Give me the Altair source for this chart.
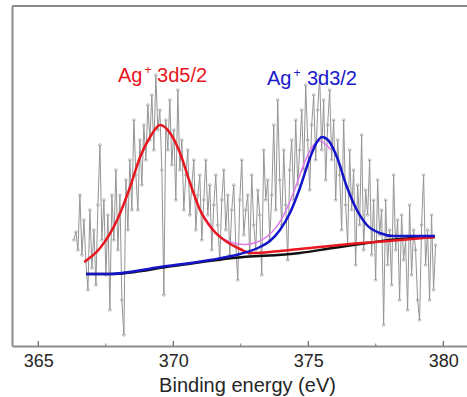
import altair as alt
import pandas as pd

# ---- raw spectrum (binding energy grid and intensity, a.u.) ----
E_START = 366.32
E_STEP = 0.074
intensity = [106, 114, 96, 151, 91, 126, 84, 56, 136, 78, 116, 61, 141, 201, 106, 146, 71, 131, 36, 151,
             106, 176, 96, 151, 46, 11, 166, 116, 186, 136, 226, 171, 136, 206, 161, 221, 186, 241, 206, 251,
             196, 271, 216, 236, 176, 51, 226, 196, 246, 181, 216, 146, 256, 176, 206, 136, 171, 196, 131, 161,
             186, 116, 151, 171, 106, 146, 186, 131, 161, 96, 141, 171, 121, 86, 146, 176, 116, 151, 91, 136,
             161, 101, 66, 146, 186, 111, 136, 151, 91, 171, 121, 96, 156, 131, 71, 196, 146, 166, 106, 151,
             221, 136, 246, 166, 121, 196, 141, 86, 176, 206, 146, 226, 161, 196, 236, 176, 261, 206, 156, 221,
             251, 186, 236, 271, 196, 246, 166, 221, 256, 186, 226, 146, 206, 171, 116, 226, 141, 101, 196, 136,
             176, 81, 161, 121, 211, 96, 156, 131, 186, 91, 146, 66, 166, 111, 136, 21, 146, 81, 116, 61,
             171, 96, 126, 46, 131, 86, 106, 36, 141, 71, 116, 96, 46, 26, 121, 171, 81, 116, 46, 131,
             56, 101]
energy = [round(E_START + E_STEP * i, 3) for i in range(len(intensity))]

# ---- fitted components ----
bg_e = [366.77, 367.66, 369.99, 372.21, 374.69, 375.91, 377.17, 378.40, 379.69]
bg_i = [72, 72, 80, 88, 93, 98, 103, 107, 109]

red_e = [366.70, 367.29, 367.92, 368.40, 368.77, 369.14, 369.51, 369.88, 370.25, 370.62,
         370.99, 371.47, 371.99, 372.47, 372.84, 374.69, 376.54, 378.40, 379.69]
red_i = [84, 98, 126, 159, 189, 209, 221, 213, 193, 163,
         136, 116, 104, 97, 93, 97, 102, 106, 109]

blue_e = [366.77, 367.66, 369.51, 371.36, 372.47, 373.21, 373.58, 373.95, 374.32, 374.69,
          375.06, 375.32, 375.51, 375.73, 376.06, 376.43, 376.80, 377.17, 377.65, 378.14, 379.69]
blue_i = [72, 72, 79, 86, 92, 99, 105, 116, 133, 158,
          188, 204, 209, 206, 189, 159, 136, 121, 113, 110, 110]

env_e = [370.99, 371.47, 371.84, 372.32, 372.69, 373.06, 373.43, 373.80, 374.17, 374.54, 374.91, 375.36, 375.84]
env_i = [136, 116, 106, 102, 101, 103, 108, 117, 134, 159, 189, 211, 196]

major_ticks = [365, 370, 375, 380]
minor_ticks = [367.5, 372.5, 377.5]

label_text = ["Ag", "3d5/2", "Ag", "3d3/2"]
label_e = [367.95, 369.40, 373.47, 374.95]
label_i = [264, 264, 261, 261]
label_col = ["#e8161e", "#e8161e", "#1818cc", "#1818cc"]
sup_e = [369.06, 374.58]
sup_i = [272, 269]
sup_col = ["#e8161e", "#1818cc"]

X_DOMAIN = [364.026, 380.878]
Y_DOMAIN = [0, 340]
FONT = "Liberation Sans"
AXIS_GREY = "#8c8c8c"
TEXT_COL = "#262626"

xs = alt.Scale(domain=X_DOMAIN, nice=False, zero=False)
ys = alt.Scale(domain=Y_DOMAIN, nice=False, zero=False)

x_axis = alt.Axis(values=major_ticks, format="d", ticks=False, grid=False,
                  domainColor=AXIS_GREY, domainWidth=2,
                  labelFont=FONT, labelFontSize=18, labelColor=TEXT_COL, labelPadding=6,
                  title="Binding energy (eV)", titleFont=FONT, titleFontSize=20,
                  titleFontWeight="normal", titleColor=TEXT_COL,
                  titleX=235, titleY=45, titleAlign="center", titleBaseline="alphabetic")
y_axis = alt.Axis(labels=False, ticks=False, grid=False, title=None,
                  domainColor=AXIS_GREY, domainWidth=2)

spec_df = pd.DataFrame({"E": energy, "I": intensity})
spectrum = alt.Chart(spec_df).mark_line(
    color="#959595", strokeWidth=1,
    point=alt.OverlayMarkDef(filled=False, size=7, color="#a8a8a8", strokeWidth=0.8)
).encode(
    x=alt.X("E:Q", scale=xs, axis=x_axis),
    y=alt.Y("I:Q", scale=ys, axis=y_axis),
    order="E:Q",
)


def curve(e, i, color, width, interp="monotone"):
    df = pd.DataFrame({"E": e, "I": i})
    return alt.Chart(df).mark_line(color=color, strokeWidth=width, interpolate=interp).encode(
        x=alt.X("E:Q", scale=xs), y=alt.Y("I:Q", scale=ys), order="E:Q")


bg = curve(bg_e, bg_i, "#111111", 2.5)
env = curve(env_e, env_i, "#e07ae6", 1.5, "basis")
red = curve(red_e, red_i, "#e8161e", 2.5)
blue = curve(blue_e, blue_i, "#1414c8", 2.5)

lab_df = pd.DataFrame({"E": label_e, "I": label_i, "t": label_text, "c": label_col})
labels = alt.Chart(lab_df).mark_text(font=FONT, fontSize=20, align="left", baseline="alphabetic").encode(
    x=alt.X("E:Q", scale=xs), y=alt.Y("I:Q", scale=ys), text="t:N",
    color=alt.Color("c:N", scale=None))

sup_df = pd.DataFrame({"E": sup_e, "I": sup_i, "t": ["+", "+"], "c": sup_col})
sups = alt.Chart(sup_df).mark_text(font=FONT, fontSize=12, align="center", baseline="alphabetic").encode(
    x=alt.X("E:Q", scale=xs), y=alt.Y("I:Q", scale=ys), text="t:N",
    color=alt.Color("c:N", scale=None))

maj_df = pd.DataFrame({"E": major_ticks, "y0": [0] * 4, "y1": [5] * 4})
maj = alt.Chart(maj_df).mark_rule(color="#666666", strokeWidth=1.2).encode(
    x=alt.X("E:Q", scale=xs), y=alt.Y("y0:Q", scale=ys), y2="y1:Q")
min_df = pd.DataFrame({"E": minor_ticks, "y0": [0] * 3, "y1": [2.5] * 3})
mnr = alt.Chart(min_df).mark_rule(color="#777777", strokeWidth=1).encode(
    x=alt.X("E:Q", scale=xs), y=alt.Y("y0:Q", scale=ys), y2="y1:Q")

top_border = alt.Chart(pd.DataFrame({"E": [X_DOMAIN[0]], "E2": [X_DOMAIN[1]], "y": [Y_DOMAIN[1]]})).mark_rule(
    color=AXIS_GREY, strokeWidth=2).encode(
    x=alt.X("E:Q", scale=xs), x2="E2:Q", y=alt.Y("y:Q", scale=ys))

chart = alt.layer(spectrum, bg, env, red, blue, labels, sups, maj, mnr, top_border).properties(
    width=455, height=340,
    padding={"left": 12, "top": 6, "right": 0, "bottom": 51},
    autosize=alt.AutoSizeParams(type="none"),
    background="white",
).configure_view(stroke=None)

chart.save("out.html", embed_options={"renderer": "svg", "actions": False})
